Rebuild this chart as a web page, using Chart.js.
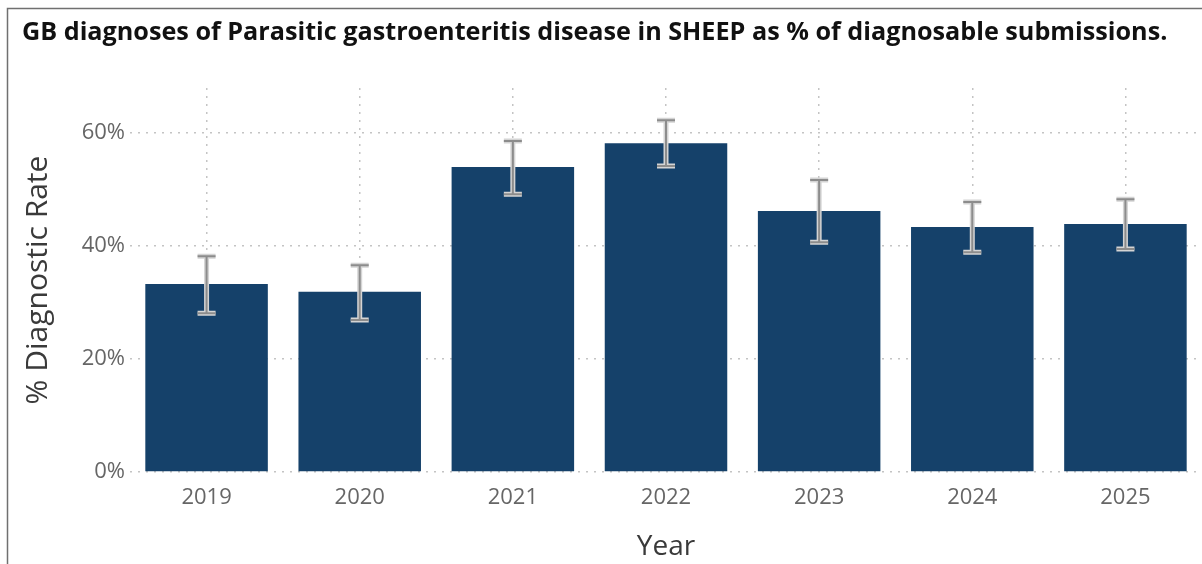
<!DOCTYPE html>
<html>
<head>
<meta charset="utf-8">
<title>Parasitic gastroenteritis - SHEEP</title>
<script src="https://cdn.jsdelivr.net/npm/chart.js@4"></script>
<style>
  html, body { margin: 0; padding: 0; background: #ffffff; }
  #wrap { width: 1202px; height: 564px; }
</style>
</head>
<body>
<div id="wrap"><canvas id="rateChart" width="1202" height="564"></canvas></div>
<script>
// ----------------- Datos -----------------

const years = ['2019', '2020', '2021', '2022', '2023', '2024', '2025'];
const rates = [33.3, 31.9, 54.0, 58.2, 46.2, 43.4, 43.9];
const lowerCI = [28.1, 26.9, 49.2, 54.2, 40.7, 38.9, 39.5];
const upperCI = [38.2, 36.6, 58.6, 62.3, 51.7, 47.8, 48.3];
const yTicks = [0, 20, 40, 60];

const chartTitle = 'GB diagnoses of Parasitic gastroenteritis disease in SHEEP as % of diagnosable submissions.';

const palette = {
  bar: '#15416a',
  grid: '#c4c4c4',
  tick: '#666666',
  axisTitle: '#3a3a3a',
  whisker: '#8c8c8c',
  whiskerEdge: '#d4d4d4',
  frame: '#707070'
};

// ----------------- Plugins -----------------

// marco y título arriba a la izquierda
const frameAndTitle = {
  id: 'frameAndTitle',
  beforeDraw(chart) {
    const ctx = chart.ctx;
    ctx.save();
    ctx.strokeStyle = palette.frame;
    ctx.lineWidth = 1.5;
    ctx.beginPath();
    ctx.moveTo(7.5, chart.height);
    ctx.lineTo(7.5, 8.5);
    ctx.lineTo(chart.width, 8.5);
    ctx.stroke();

    ctx.fillStyle = '#111111';
    ctx.textBaseline = 'middle';
    ctx.textAlign = 'left';
    let size = 20;
    ctx.font = `bold ${size}px "Open Sans", sans-serif`;
    const w = ctx.measureText(chartTitle).width;
    size = size * 1146 / w;
    ctx.font = `bold ${size}px "Open Sans", sans-serif`;
    ctx.fillText(chartTitle, 22, 33);
    ctx.restore();
  }
};

// barras de error (intervalo)
const errorBars = {
  id: 'errorBars',
  afterDatasetsDraw(chart) {
    const ctx = chart.ctx;
    const yScale = chart.scales.y;
    const meta = chart.getDatasetMeta(0);
    ctx.save();
    meta.data.forEach((bar, i) => {
      const x = bar.x;
      const yTop = yScale.getPixelForValue(upperCI[i]);
      const yBot = yScale.getPixelForValue(lowerCI[i]);
      const cap = 9;
      const draw = (color, width) => {
        ctx.strokeStyle = color;
        ctx.lineWidth = width;
        ctx.beginPath();
        ctx.moveTo(x, yTop);
        ctx.lineTo(x, yBot);
        ctx.moveTo(x - cap, yTop);
        ctx.lineTo(x + cap, yTop);
        ctx.moveTo(x - cap, yBot);
        ctx.lineTo(x + cap, yBot);
        ctx.stroke();
      };
      draw(palette.whiskerEdge, 5);
      draw(palette.whisker, 2);
    });
    ctx.restore();
  }
};

// ----------------- Gráfico -----------------

const ctx = document.getElementById('rateChart').getContext('2d');

new Chart(ctx, {
  type: 'bar',
  data: {
    labels: years,
    datasets: [{
      label: '% Diagnostic Rate',
      data: rates,
      backgroundColor: palette.bar,
      borderWidth: 0,
      barPercentage: 0.8,
      categoryPercentage: 1.0
    }]
  },
  options: {
    responsive: false,
    animation: false,
    layout: {
      padding: { top: 88, left: 8, right: 0, bottom: 0 }
    },
    plugins: {
      legend: { display: false },
      tooltip: { enabled: false }
    },
    scales: {
      x: {
        offset: true,
        border: { display: false, dash: [2, 6] },
        grid: {
          offset: false,
          color: palette.grid,
          lineWidth: 1.5,
          drawTicks: false
        },
        ticks: {
          color: palette.tick,
          font: { family: 'Open Sans', size: 22 },
          padding: 13
        },
        title: {
          display: true,
          text: 'Year',
          color: palette.axisTitle,
          font: { family: 'Open Sans', size: 28 },
          padding: { top: 0, bottom: 0 }
        },
        afterFit(scale) {
          scale.height = 92;
        }
      },
      y: {
        min: 0,
        max: 68,
        border: { display: false, dash: [2, 6] },
        grid: {
          color: palette.grid,
          lineWidth: 1.5,
          drawTicks: false
        },
        afterBuildTicks(scale) {
          scale.ticks = yTicks.map(v => ({ value: v }));
        },
        ticks: {
          color: palette.tick,
          font: { family: 'Open Sans', size: 22 },
          padding: 5,
          callback: (v) => `${v}%`
        },
        title: {
          display: true,
          text: '% Diagnostic Rate',
          color: palette.axisTitle,
          font: { family: 'Open Sans', size: 30 },
          padding: { top: 12, bottom: 0 }
        },
        afterFit(scale) {
          scale.width = 122;
        }
      }
    }
  },
  plugins: [frameAndTitle, errorBars]
});
</script>
</body>
</html>
